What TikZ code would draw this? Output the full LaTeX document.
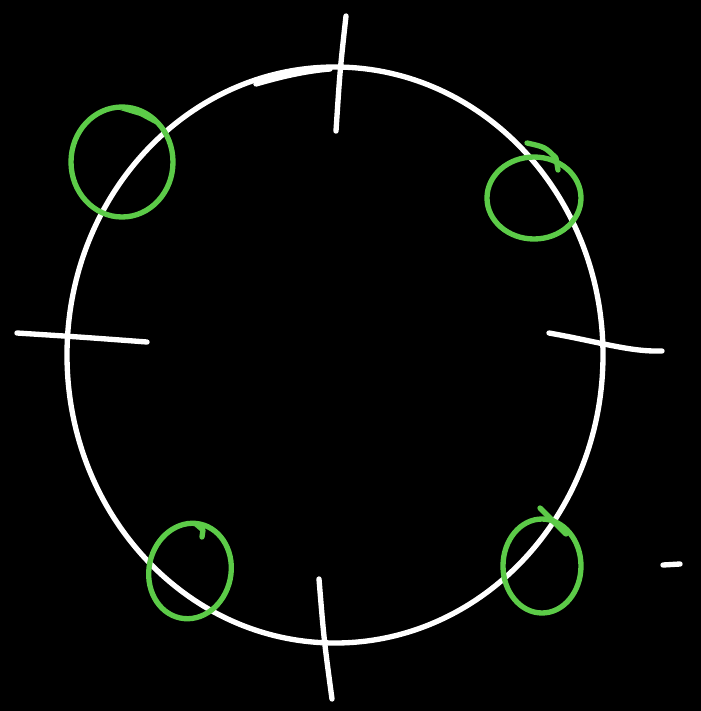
\documentclass[tikz,border=0pt]{standalone}
\usepackage{xcolor}
\usepackage{tikz}
\usetikzlibrary{calc}
\definecolor{chalk}{HTML}{FFFFFF}
\definecolor{marker}{HTML}{5CCB48}

\begin{document}
\begin{tikzpicture}[
    x=0.3mm, y=-0.3mm,
    ink/.style={draw=chalk, line width=1.6mm, line cap=round, line join=round},
    loop/.style={draw=marker, line width=1.6mm, line cap=round, line join=round},
  ]
  \fill[black] (0,0) rectangle (701,711);
  \useasboundingbox (0,0) rectangle (701,711);
  % big circle
  \coordinate (c) at (335,355);
  \draw[ink] (c) ellipse [x radius=268, y radius=288];
  % ticks
  \draw[ink] (346,16) .. controls (340,70) .. (336,131);
  \draw[ink] (256,84) .. controls (280,77) and (305,71) .. (330,69);
  \draw[ink] (17,333) .. controls (80,337) .. (147,342);
  \draw[ink] (549,333) .. controls (600,342) and (630,352) .. (662,351);
  \draw[ink] (319,579) .. controls (324,640) .. (332,699);
  \draw[ink] (663,565) -- (680,564);
  % green loops
  \draw[loop] (122,162) ellipse [x radius=51, y radius=55];
  \fill[marker] (120,110) .. controls (140,104) and (150,112) .. (155,124) -- (140,116) -- cycle;
  \draw[loop] (534,198) ellipse [x radius=47, y radius=41];
  \draw[loop] (527,143) .. controls (545,147) .. (556,158) -- (558,170);
  \draw[loop, rotate around={-12:(190,571)}] (190,571) ellipse [x radius=41, y radius=48];
  \draw[loop] (196,524) -- (203,530) -- (202,537);
  \draw[loop] (542,566) ellipse [x radius=39, y radius=47];
  \draw[loop] (540,508) -- (566,534);
\end{tikzpicture}
\end{document}
